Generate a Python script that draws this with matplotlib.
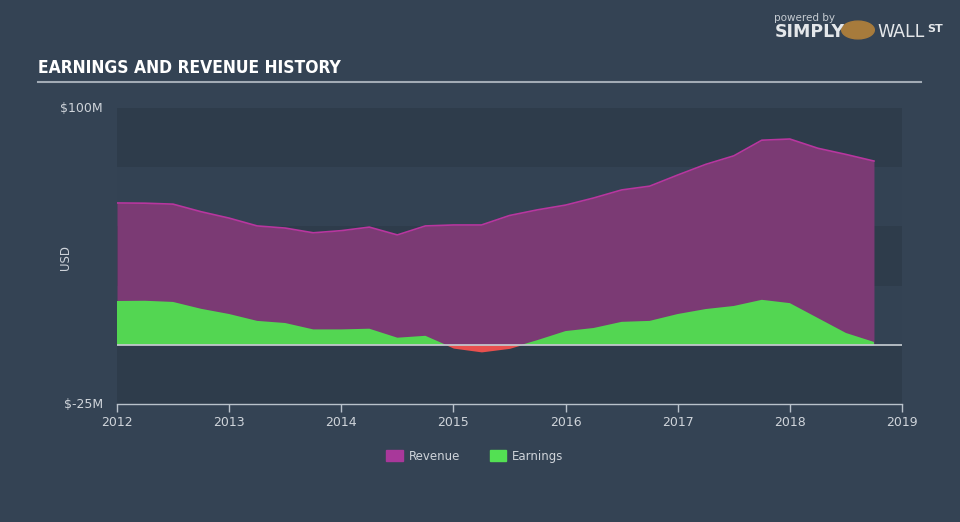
import numpy as np
import matplotlib
matplotlib.use("Agg")
import matplotlib.pyplot as plt
from matplotlib.patches import Patch

# quarterly readings (USD millions)
years = [2012.0, 2012.25, 2012.5, 2012.75, 2013.0, 2013.25, 2013.5, 2013.75,
         2014.0, 2014.25, 2014.5, 2014.75, 2015.0, 2015.25, 2015.5, 2015.75,
         2016.0, 2016.25, 2016.5, 2016.75, 2017.0, 2017.25, 2017.5, 2017.75,
         2018.0, 2018.25, 2018.5, 2018.75]
revenue = [59.9, 59.8, 59.4, 56.2, 53.5, 50.2, 49.3, 47.3,
           48.2, 49.7, 46.4, 50.2, 50.6, 50.6, 54.6, 57.0,
           59.0, 62.0, 65.4, 67.0, 71.7, 76.2, 79.8, 86.4,
           86.9, 83.0, 80.4, 77.6]
earnings = [18.5, 18.6, 18.1, 15.2, 13.0, 10.1, 9.2, 6.5,
            6.5, 6.8, 3.0, 3.8, -1.4, -3.0, -1.5, 2.0,
            5.8, 7.1, 9.7, 10.1, 13.0, 15.1, 16.4, 19.0,
            17.6, 11.3, 5.0, 1.2]

x_ticks = [2012, 2013, 2014, 2015, 2016, 2017, 2018, 2019]
y_min, y_max = -25, 100

bg = "#344354"
dark_band = "#2e3c4b"
light_band = "#334253"
txt = "#cfd4da"

fig = plt.figure(figsize=(9.6, 5.22), dpi=100, facecolor=bg)
ax = fig.add_axes([117 / 960, 1 - 404 / 522, 785 / 960, 296 / 522])
ax.set_facecolor(bg)

x = np.array(years)
rev = np.array(revenue)
earn = np.array(earnings)

# alternating horizontal bands
for i, lo in enumerate(range(y_min, y_max, 25)):
    col = dark_band if i % 2 == 0 else light_band
    ax.axhspan(lo, lo + 25, color=col, lw=0, zorder=0)

ax.fill_between(x, 0, rev, color="#7b3a74", lw=0, zorder=2)
ax.plot(x, rev, color="#b8369f", lw=1.2, zorder=3)
ax.fill_between(x, 0, earn, where=earn >= 0, interpolate=True,
                color="#53d652", lw=0, zorder=4)
ax.fill_between(x, 0, earn, where=earn <= 0, interpolate=True,
                color="#e8504e", lw=0, zorder=4)
ax.axhline(0, color="#c9cfd4", lw=1.2, zorder=5)

ax.set_xlim(2012, 2019)
ax.set_ylim(y_min, y_max)
ax.set_xticks(x_ticks)
ax.set_xticklabels([str(t) for t in x_ticks], color=txt, fontsize=9)
ax.set_yticks([])
for s in ["top", "right", "left"]:
    ax.spines[s].set_visible(False)
ax.spines["bottom"].set_color("#b9c2cb")
ax.spines["bottom"].set_linewidth(1.0)
ax.tick_params(axis="x", colors="#b9c2cb", length=6, width=1.0,
               labelcolor=txt, pad=3)

fig.text(103 / 960, 1 - 108 / 522, "$100M", color=txt, fontsize=9,
         ha="right", va="center")
fig.text(103 / 960, 1 - 404 / 522, "$-25M", color=txt, fontsize=9,
         ha="right", va="center")
fig.text(66 / 960, 1 - 258 / 522, "USD", color=txt, fontsize=8.5,
         rotation=90, ha="center", va="center")

# title and underline
fig.text(38 / 960, 1 - 68 / 522, "EARNINGS AND REVENUE HISTORY",
         color="white", fontsize=12.5, fontweight="bold",
         fontstretch="condensed", family="DejaVu Sans",
         ha="left", va="center")
fig.add_artist(plt.Line2D([38 / 960, 921 / 960], [1 - 82 / 522, 1 - 82 / 522],
                          color="#a2abb5", lw=1.5))

# logo text
fig.text(805 / 960, 1 - 18 / 522, "powered by", color="#c6ccd2", fontsize=7.5,
         ha="center", va="center")
fig.text(775 / 960, 1 - 32 / 522, "SIMPLY", color="#e4e7ea", fontsize=12.5,
         fontweight="bold", ha="left", va="center")
fig.add_artist(plt.Circle((858 / 960, 1 - 30 / 522), 0.017,
                          transform=fig.transFigure, color="#a77b3c"))
fig.text(877 / 960, 1 - 32 / 522, "WALL", color="#e4e7ea", fontsize=12.5,
         ha="left", va="center")
fig.text(927 / 960, 1 - 29 / 522, "ST", color="#e4e7ea", fontsize=8,
         fontweight="bold", ha="left", va="center")

handles = [Patch(color="#a8389a", label="Revenue"),
           Patch(color="#53e053", label="Earnings")]
fig.legend(handles=handles, loc="center", bbox_to_anchor=(475 / 960, 1 - 456 / 522),
           ncol=2, frameon=False, fontsize=8.5, labelcolor=txt,
           handlelength=1.4, handleheight=1.0, columnspacing=2.5,
           handletextpad=0.5)

fig.savefig("out.png", dpi=100, facecolor=bg)
